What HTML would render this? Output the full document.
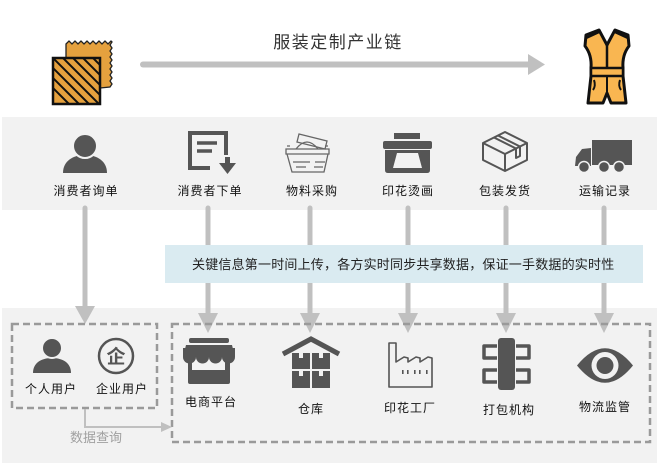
<!DOCTYPE html>
<html><head><meta charset="utf-8"><style>
html,body{margin:0;padding:0;background:#fff;}
svg{display:block;}
text{font-family:"Liberation Sans","Noto Sans CJK SC",sans-serif;}
.lb{font-size:12px;fill:#111;letter-spacing:1px;text-anchor:middle;}
</style></head><body>
<svg width="671" height="473" viewBox="0 0 671 473" xmlns="http://www.w3.org/2000/svg">
<defs>
<clipPath id="fc"><rect x="53" y="58" width="47" height="46"/></clipPath>
</defs>
<rect x="0" y="0" width="671" height="473" fill="#fff"/>
<!-- bands -->
<rect x="2" y="117" width="655" height="93" fill="#f2f2f2"/>
<rect x="2" y="308" width="655" height="155" fill="#f2f2f2"/>

<!-- title -->
<text x="338" y="48" font-size="17" fill="#333" text-anchor="middle" letter-spacing="1.5">服装定制产业链</text>
<line x1="143" y1="64.5" x2="530" y2="64.5" stroke="#c0c0c0" stroke-width="6" stroke-linecap="round"/>
<polygon points="528,54 545,64.5 528,75" fill="#c0c0c0"/>

<!-- fabric icon -->
<path d="M66,44 l3,-3 l3,3 l3,-3 l3,3 l3,-3 l3,3 l3,-3 l3,3 l3,-3 l3,3 l3,-3 l3,3 l3,-3 l3,3 l3,-3 l1,1 l-2,3 l2,3 l-2,3 l2,3 l-2,3 l2,3 l-2,3 l2,3 l-2,3 l2,3 l-2,3 l2,3 l-2,3 l2,3 l-2,3 L100,88 L66,88 Z" fill="#E5A13E" stroke="#222" stroke-width="1.3"/>
<rect x="53" y="58" width="47" height="46" fill="#E5A13E"/>
<g clip-path="url(#fc)" stroke="#111" stroke-width="2">
<line x1="33" y1="48" x2="93" y2="108"/>
<line x1="43" y1="48" x2="103" y2="108"/>
<line x1="53" y1="48" x2="113" y2="108"/>
<line x1="63" y1="48" x2="123" y2="108"/>
<line x1="73" y1="48" x2="133" y2="108"/>
<line x1="83" y1="48" x2="143" y2="108"/>
<line x1="23" y1="48" x2="83" y2="108"/>
<line x1="13" y1="48" x2="73" y2="108"/>
</g>
<rect x="53" y="58" width="47" height="46" fill="none" stroke="#111" stroke-width="2.5"/>

<!-- dress icon -->
<path d="M599,30 L586,35 L585,46 Q592,55 591,68 L591,76 L588,103 L603,103 L607,93 L611,103 L626,103 L623,76 L623,68 Q622,55 629,46 L628,35 L615,30 L607,45 Z" fill="#F9B651" stroke="#111" stroke-width="3" stroke-linejoin="round"/>
<path d="M586,38 L599,32 M628,38 L615,32" stroke="#111" stroke-width="2.5" fill="none"/>
<line x1="607" y1="45" x2="607" y2="70" stroke="#111" stroke-width="2.5"/>
<rect x="591" y="68" width="32" height="8" fill="#F9B651" stroke="#111" stroke-width="2.5"/>
<line x1="607" y1="76" x2="607" y2="93" stroke="#111" stroke-width="2"/>
<path d="M594,80 Q596,86 593,90 M620,80 Q618,86 621,90" stroke="#111" stroke-width="2" fill="none"/>

<!-- band 1 icons -->
<!-- person -->
<path d="M63,173 C63,161 73,155 85,155 C97,155 107,161 107,173 Z" fill="#555"/>
<circle cx="85" cy="146" r="12" fill="#555" stroke="#f2f2f2" stroke-width="2"/>
<!-- document -->
<path d="M210,168 L190,168 L190,133 L226,133 L226,155" fill="none" stroke="#555" stroke-width="4"/>
<line x1="197" y1="143" x2="217" y2="143" stroke="#555" stroke-width="3.5"/>
<line x1="197" y1="151" x2="212" y2="151" stroke="#555" stroke-width="3.5"/>
<rect x="225" y="157" width="5" height="8" fill="#555"/>
<polygon points="219,163 236,163 227.5,174" fill="#555"/>
<!-- basket -->
<g fill="none" stroke="#666" stroke-width="1.3">
<path d="M299,134 L327,141 L325,149 L297,142 Z"/>
<path d="M296,149 Q307,135 318,149"/>
<path d="M287,146 L290,146 M325,146 L328,146"/>
<path d="M286,149 L329,149 L329,154 L286,154 Z"/>
<path d="M287,154 L292,172 L324,172 L328,154"/>
<path d="M293,162 L310,162 M296,167 L306,167 M314,167 L323,167 M315,162 L325,162"/>
</g>
<!-- printer -->
<rect x="394" y="133" width="26" height="6" fill="#555"/>
<rect x="383" y="141" width="49" height="8" rx="2" fill="#555"/>
<path d="M385,150 L430,150 L430,170 Q430,173 427,173 L388,173 Q385,173 385,170 Z" fill="#555"/>
<path d="M397,153 L418,153 L422,168 L393,168 Z" fill="#f2f2f2"/>
<!-- box -->
<g fill="none" stroke="#555" stroke-width="2" stroke-linejoin="round">
<path d="M505,132 L527,143 L527,160 L505,171 L483,160 L483,143 Z"/>
<path d="M483,143 L505,154 L527,143 M505,154 L505,171"/>
<path d="M494,137.5 L516,148.5 L516,158 L520,156 L520,146.5 L498,135.5"/>
</g>
<!-- truck -->
<rect x="592" y="140" width="40" height="25" fill="#555"/>
<path d="M575,166 L576,157 L582,149 L591,148 L591,166 Z" fill="#555"/>
<circle cx="584" cy="167" r="5.5" fill="#555" stroke="#f2f2f2" stroke-width="1.5"/>
<circle cx="604" cy="167" r="5.5" fill="#555" stroke="#f2f2f2" stroke-width="1.5"/>
<circle cx="619" cy="167" r="5.5" fill="#555" stroke="#f2f2f2" stroke-width="1.5"/>

<!-- band 1 labels -->
<text class="lb" x="86" y="195">消费者询单</text>
<text class="lb" x="210" y="195">消费者下单</text>
<text class="lb" x="312" y="195">物料采购</text>
<text class="lb" x="408" y="195">印花烫画</text>
<text class="lb" x="505" y="195">包装发货</text>
<text class="lb" x="605" y="195">运输记录</text>

<!-- arrows -->
<g stroke="#c0c0c0" stroke-width="5" stroke-linecap="round">
<line x1="85" y1="208" x2="85" y2="308"/>
<line x1="208" y1="208" x2="208" y2="316"/>
<line x1="310" y1="208" x2="310" y2="316"/>
<line x1="408" y1="208" x2="408" y2="316"/>
<line x1="506" y1="208" x2="506" y2="316"/>
<line x1="604" y1="208" x2="604" y2="316"/>
</g>
<g fill="#c0c0c0">
<polygon points="75,306 95,306 85,324"/>
<polygon points="198,313 218,313 208,333"/>
<polygon points="300,313 320,313 310,333"/>
<polygon points="398,313 418,313 408,333"/>
<polygon points="496,313 516,313 506,333"/>
<polygon points="594,313 614,313 604,333"/>
</g>

<!-- info box -->
<rect x="165" y="245" width="478" height="38" fill="#daebf1"/>
<text x="192" y="269" font-size="13" fill="#222" letter-spacing="0.2">关键信息第一时间上传，各方实时同步共享数据，保证一手数据的实时性</text>

<!-- dashed boxes -->
<rect x="12" y="324" width="145" height="84" fill="none" stroke="#9a9a9a" stroke-width="2.5" stroke-dasharray="7 4"/>
<rect x="172" y="324" width="478" height="118" fill="none" stroke="#9a9a9a" stroke-width="2.5" stroke-dasharray="7 4"/>

<!-- data query connector -->
<path d="M85,409 L85,427 L163,427" fill="none" stroke="#c0c0c0" stroke-width="2"/>
<polygon points="161,422 172,427 161,432" fill="#c0c0c0"/>
<text x="96" y="442" font-size="13" fill="#a0a0a0" text-anchor="middle">数据查询</text>

<!-- band 2 icons -->
<path d="M33,373 C33,363 41,358 52,358 C63,358 71,363 71,373 Z" fill="#555"/>
<circle cx="52" cy="348" r="10" fill="#555" stroke="#f2f2f2" stroke-width="2"/>
<circle cx="116" cy="356" r="17" fill="none" stroke="#555" stroke-width="2.5"/>
<text x="116" y="363" font-size="19" font-weight="bold" fill="#555" text-anchor="middle" font-family="Noto Sans CJK SC, sans-serif">企</text>
<text class="lb" x="51" y="393">个人用户</text>
<text class="lb" x="122" y="393">企业用户</text>

<!-- shop -->
<rect x="189" y="338" width="40" height="5" rx="2" fill="#555"/>
<rect x="188" y="360" width="42" height="24" rx="2" fill="#555"/>
<rect x="192" y="360" width="33" height="10" fill="#f2f2f2"/>
<path d="M186,345 L232,345 L235,357 L183,357 Z" fill="#555"/>
<g fill="#555">
<circle cx="189.5" cy="357" r="6.5"/>
<circle cx="202.5" cy="357" r="6.5"/>
<circle cx="215.5" cy="357" r="6.5"/>
<circle cx="228.5" cy="357" r="6.5"/>
</g>
<rect x="183" y="348" width="52" height="9" fill="#555"/>
<!-- warehouse -->
<path d="M283,354 L311,339 L339,354" fill="none" stroke="#555" stroke-width="5" stroke-linejoin="miter"/>
<g fill="#555">
<rect x="292" y="353" width="18" height="16"/>
<rect x="312" y="353" width="18" height="16"/>
<rect x="292" y="371" width="18" height="17"/>
<rect x="312" y="371" width="18" height="17"/>
</g>
<g fill="#f2f2f2">
<rect x="299" y="353" width="4" height="5"/>
<rect x="319" y="353" width="4" height="5"/>
<rect x="299" y="371" width="4" height="5"/>
<rect x="319" y="371" width="4" height="5"/>
</g>
<!-- factory -->
<path d="M389,387 L389,343 L396,343 L396,362 L404,357 L408,358 L408,362 L416,357 L420,358 L420,362 L428,357 L432,358 L432,387 Z" fill="none" stroke="#555" stroke-width="1.6" stroke-linejoin="round"/>
<g fill="#555">
<rect x="402" y="370" width="1.6" height="4"/>
<rect x="407" y="370" width="1.6" height="4"/>
<rect x="414" y="370" width="1.6" height="4"/>
<rect x="419" y="370" width="1.6" height="4"/>
<rect x="426" y="370" width="1.6" height="4"/>
</g>
<!-- packing -->
<g fill="none" stroke="#555" stroke-width="3.5" stroke-linejoin="round">
<path d="M497,346 L484,346 L484,358 L497,358"/>
<path d="M497,370 L484,370 L484,382 L497,382"/>
<path d="M516,346 L529,346 L529,358 L516,358"/>
<path d="M516,370 L529,370 L529,382 L516,382"/>
</g>
<rect x="498" y="338" width="17" height="52" rx="3" fill="#555"/>
<!-- eye -->
<path d="M577,365.5 Q605,331 633,365.5 Q605,400 577,365.5 Z" fill="#555"/>
<circle cx="605" cy="365.5" r="13.5" fill="#f2f2f2"/>
<circle cx="605" cy="365.5" r="8.5" fill="#555"/>

<!-- band 2 labels -->
<text class="lb" x="211" y="406">电商平台</text>
<text class="lb" x="311" y="413">仓库</text>
<text class="lb" x="410" y="412">印花工厂</text>
<text class="lb" x="509" y="414">打包机构</text>
<text class="lb" x="605" y="411">物流监管</text>
</svg>
</body></html>
